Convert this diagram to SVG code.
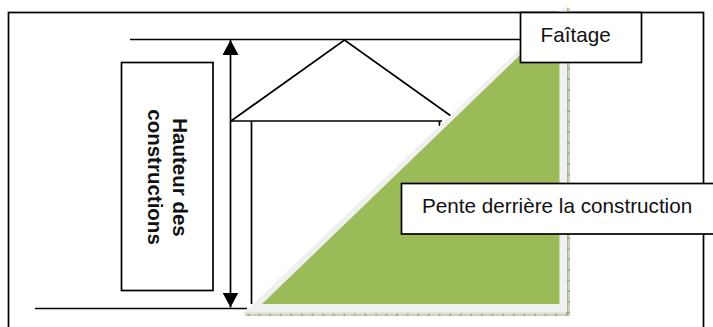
<svg xmlns="http://www.w3.org/2000/svg" width="713" height="327" viewBox="0 0 713 327">
  <style>
    .ln { fill: none; stroke: #000; stroke-width: 1.7; }
    .box { fill: #fff; stroke: #000; stroke-width: 1.7; }
    .t { font-family: "Liberation Sans", Arial, sans-serif; font-size: 20.7px; fill: #111; }
    .b { font-size: 20.5px; font-weight: bold; text-anchor: middle; }
  </style>
  <defs>
    <marker id="ah" viewBox="0 0 15 16" markerWidth="15" markerHeight="16" markerUnits="userSpaceOnUse" refX="15" refY="8" orient="auto-start-reverse">
      <path d="M0 0L15 8L0 16Z" fill="#000"/>
    </marker>
    <pattern id="hatch" width="10.6" height="10.6" patternUnits="userSpaceOnUse">
      <rect width="10.6" height="10.6" fill="#c3cfae"/>
      <path d="M5 0V10.6M0 5H10.6" stroke="#71825f" stroke-width="1" fill="none"/>
    </pattern>
  </defs>
  <rect width="713" height="327" fill="#fff"/>
  <g id="cadre"><rect class="ln" x="8.500" y="12.500" width="695" height="330"/></g>
  <g id="connecteurs">
    <path class="ln" d="M130 39.500H521"/>
    <path class="ln" d="M35 308.500H247"/>
    <path class="ln" d="M230.500 40V307.500" marker-start="url(#ah)" marker-end="url(#ah)"/>
  </g>
  <g id="construction">
    <path class="ln" d="M231 121L344.500 40L451 116"/>
    <path class="ln" d="M231 121H442M251.500 121V304M439.500 121V126"/>
  </g>
  <g id="pente">
    <path d="M245 312.500L567 5V8H570V316H245Z" fill="url(#hatch)" opacity="0.9"/>
    <path d="M244 312.500L567 4V312.500Z" fill="#f0f0f0"/>
    <path d="M245 313H566" stroke="#fff" stroke-width="1" fill="none"/>
    <path d="M262 304L559.500 17V304Z" fill="#9bbb59"/>
  </g>
  <g id="hauteur">
    <rect class="box" x="121.500" y="62.500" width="91.500" height="228"/>
    <text class="t b" transform="translate(173 177.500) rotate(90)">Hauteur des</text>
    <text class="t b" transform="translate(148 177) rotate(90)">constructions</text>
  </g>
  <g id="faitage">
    <rect class="box" x="520.500" y="12.500" width="121" height="50"/>
    <text class="t" x="540.500" y="41.500">Faîtage</text>
  </g>
  <g id="pente-label">
    <rect class="box" x="401.500" y="183.500" width="330" height="50.500"/>
    <text class="t" x="422" y="212.500">Pente derrière la construction</text>
  </g>
</svg>
